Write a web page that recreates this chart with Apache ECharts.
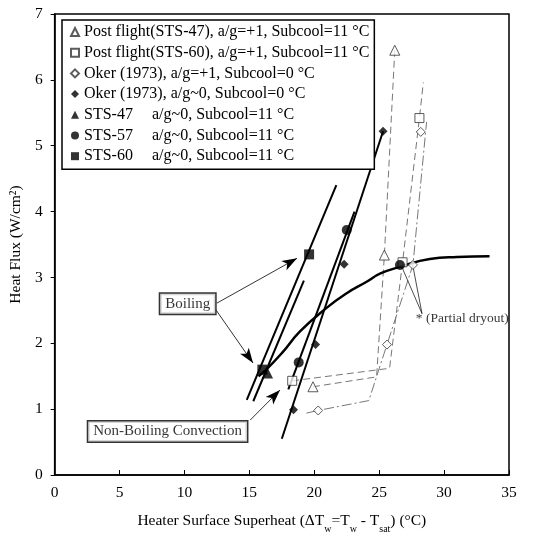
<!DOCTYPE html>
<html>
<head>
<meta charset="utf-8">
<script src="https://cdn.jsdelivr.net/npm/echarts@6.0.0/dist/echarts.min.js"></script>
<style>
  html, body { margin: 0; padding: 0; background: #fff; }
  #chart { width: 534px; height: 539px; }
</style>
</head>
<body>
<div id="chart"></div>
<script>
// measured points, [superheat °C, heat flux W/cm2]
const postSts47 = [[19.9, 1.34], [25.4, 3.34], [26.2, 6.45]];
const postSts47Path = [[19.9, 1.34], [24.8, 1.49], [25.4, 3.34], [26.2, 6.45]];
const postSts60 = [[18.3, 1.43], [26.8, 3.23], [28.1, 5.42]];
const postSts60Path = [[18.3, 1.43], [25.8, 1.62], [26.8, 3.23], [28.1, 5.42], [28.4, 5.96]];
const okerPlus = [[20.3, 0.98], [25.6, 1.98], [27.6, 3.19], [28.2, 5.21]];
const okerPlusPath = [[19.4, 0.94], [20.3, 0.98], [24.2, 1.13], [25.6, 1.98], [27.6, 3.19], [28.65, 5.36]];
const okerZero = [[18.4, 0.99], [20.1, 1.98], [22.3, 3.2], [25.3, 5.22]];
const sts47 = [[16.4, 1.55]];
const sts57 = [[18.8, 1.71], [22.5, 3.72], [26.6, 3.19]];
const sts60 = [[16.0, 1.6], [19.6, 3.35]];

// fitted lines
const okerZeroFit = [[17.5, 0.55], [25.3, 5.22]];
const sts47Fit = [[15.3, 1.12], [19.2, 2.95]];
const sts57Fit = [[18.0, 1.3], [23.1, 4.0]];
const sts60Fit = [[14.8, 1.14], [21.7, 4.4]];
const convectionCurve = [[15.7, 1.5], [16.3, 1.6], [17.5, 1.85], [18.9, 2.18], [20.9, 2.53], [22.5, 2.76],
  [24.0, 2.93], [25.1, 3.06], [26.6, 3.16], [28.9, 3.28], [31.0, 3.31], [33.5, 3.32]];

// annotations
const notes = ['Boiling', 'Non-Boiling Convection', '* (Partial dryout)'];
const notePos = [[10.25, 2.6], [8.7, 0.66], [31.4, 2.38]];
const arrowLines = [
  [[12.5, 2.61], [18.67, 3.29]],
  [[12.45, 2.5], [15.28, 1.7]],
  [[15.07, 0.835], [17.36, 1.29]]
];
const pointerLines = [
  [[28.3, 2.45], [26.7, 3.18]],
  [[28.3, 2.45], [27.6, 3.17]]
];

const legendNames = [
  'Post flight(STS-47), a/g=+1, Subcool=11 °C',
  'Post flight(STS-60), a/g=+1, Subcool=11 °C',
  'Oker (1973), a/g=+1, Subcool=0 °C',
  'Oker (1973), a/g~0, Subcool=0 °C',
  'STS-47',
  'STS-57',
  'STS-60'
];
const stsSuffix = 'a/g~0, Subcool=11 °C';

const FONT = 'Liberation Serif';
const chart = echarts.init(document.getElementById('chart'));

function openMarker(name, data, symbol, size) {
  return {
    name, type: 'scatter', data, symbol, symbolSize: size, z: 5,
    itemStyle: { color: '#fff', borderColor: '#333', borderWidth: 1 }
  };
}
function solidMarker(name, data, symbol, size) {
  return {
    name, type: 'scatter', data, symbol, symbolSize: size, z: 5,
    itemStyle: { color: '#000' }
  };
}
function path(data, color, width, type, smooth) {
  return {
    type: 'line', data, symbol: 'none', smooth: !!smooth, z: 3, silent: true,
    lineStyle: { color, width, type }
  };
}

const lineSeries = [
  path(postSts47Path, '#777', 1, [7, 4]),
  path(postSts60Path, '#777', 1, [7, 4]),
  path(okerPlusPath, '#777', 1, [10, 3, 2, 3]),
  path(okerZeroFit, '#000', 2, 'solid'),
  path(sts47Fit, '#000', 2, 'solid'),
  path(sts57Fit, '#000', 2, 'solid'),
  path(convectionCurve, '#000', 2.5, 'solid', 0.4)
];

// arrows from the text boxes
lineSeries.push({
  type: 'line', data: sts60Fit, symbol: 'none', z: 3, silent: true,
  lineStyle: { color: '#000', width: 2 },
  markLine: {
    silent: true, animation: false,
    symbol: ['none', 'arrow'], symbolSize: [8, 15],
    label: { show: false },
    lineStyle: { color: '#000', width: 0.8, type: 'solid' },
    data: arrowLines.map(l => [{ coord: l[0] }, { coord: l[1] }])
  }
});
// pointer lines for the partial dryout note
lineSeries.push({
  type: 'line', data: [], symbol: 'none', silent: true,
  markLine: {
    silent: true, animation: false,
    symbol: ['none', 'none'],
    label: { show: false },
    lineStyle: { color: '#000', width: 0.7, type: 'solid' },
    data: pointerLines.map(l => [{ coord: l[0] }, { coord: l[1] }])
  }
});

const markerSeries = [
  openMarker(legendNames[0], postSts47, 'triangle', 10),
  openMarker(legendNames[1], postSts60, 'rect', 9),
  openMarker(legendNames[2], okerPlus, 'diamond', 9),
  solidMarker(legendNames[3], okerZero, 'diamond', 9),
  solidMarker(legendNames[4], sts47, 'triangle', 11),
  solidMarker(legendNames[5], sts57, 'circle', 10),
  solidMarker(legendNames[6], sts60, 'rect', 10)
];

const noteSeries = {
  type: 'scatter', symbolSize: 0, z: 10, silent: true,
  data: notes.map((t, i) => ({
    value: notePos[i],
    label: {
      show: true, position: 'inside', formatter: t,
      fontFamily: FONT, fontSize: i < 2 ? 15 : 13.5, color: '#000',
      backgroundColor: i < 2 ? '#fff' : 'transparent',
      borderColor: '#000', borderWidth: i < 2 ? 1.5 : 0,
      padding: i < 2 ? [3, 5, 2, 5] : 0
    }
  }))
};

chart.setOption({
  animation: false,
  backgroundColor: '#fff',
  grid: { left: 54, right: 25, top: 14, bottom: 64, show: true, borderColor: '#000', borderWidth: 1.5 },
  legend: {
    data: legendNames,
    orient: 'vertical', left: 62, top: 20,
    backgroundColor: '#fff', borderColor: '#000', borderWidth: 1.5,
    padding: [3, 5, 4, 8], itemGap: 2.7, itemWidth: 8, itemHeight: 8,
    selectedMode: false,
    formatter: name => name.startsWith('STS') ? '{n|' + name + '}' + stsSuffix : name,
    textStyle: {
      fontFamily: FONT, fontSize: 16, color: '#000', lineHeight: 18,
      rich: { n: { width: 68, fontFamily: FONT, fontSize: 16, color: '#000' } }
    }
  },
  xAxis: {
    type: 'value', min: 0, max: 35, interval: 5,
    name: 'Heater Surface Superheat (ΔT{s|w}=T{s|w} - T{s|sat}) (°C)',
    nameLocation: 'middle', nameGap: 38,
    nameTextStyle: {
      fontFamily: FONT, fontSize: 15.5, color: '#000',
      rich: { s: { fontFamily: FONT, fontSize: 10, color: '#000', verticalAlign: 'bottom', padding: [0, 0, -5, 0] } }
    },
    splitLine: { show: false },
    axisLine: { lineStyle: { color: '#000', width: 1.5 } },
    axisTick: { inside: true, length: 5, lineStyle: { color: '#000' } },
    axisLabel: { fontFamily: FONT, fontSize: 15.5, color: '#000', margin: 10 }
  },
  yAxis: {
    type: 'value', min: 0, max: 7, interval: 1,
    name: 'Heat Flux (W/cm²)', nameLocation: 'middle', nameGap: 29,
    nameTextStyle: { fontFamily: FONT, fontSize: 15.5, color: '#000' },
    splitLine: { show: false },
    axisLine: { lineStyle: { color: '#000', width: 1.5 } },
    axisTick: { length: 4, lineStyle: { color: '#000' } },
    axisLabel: { fontFamily: FONT, fontSize: 15.5, color: '#000', margin: 12 }
  },
  series: lineSeries.concat(markerSeries, [noteSeries])
});
</script>
</body>
</html>
